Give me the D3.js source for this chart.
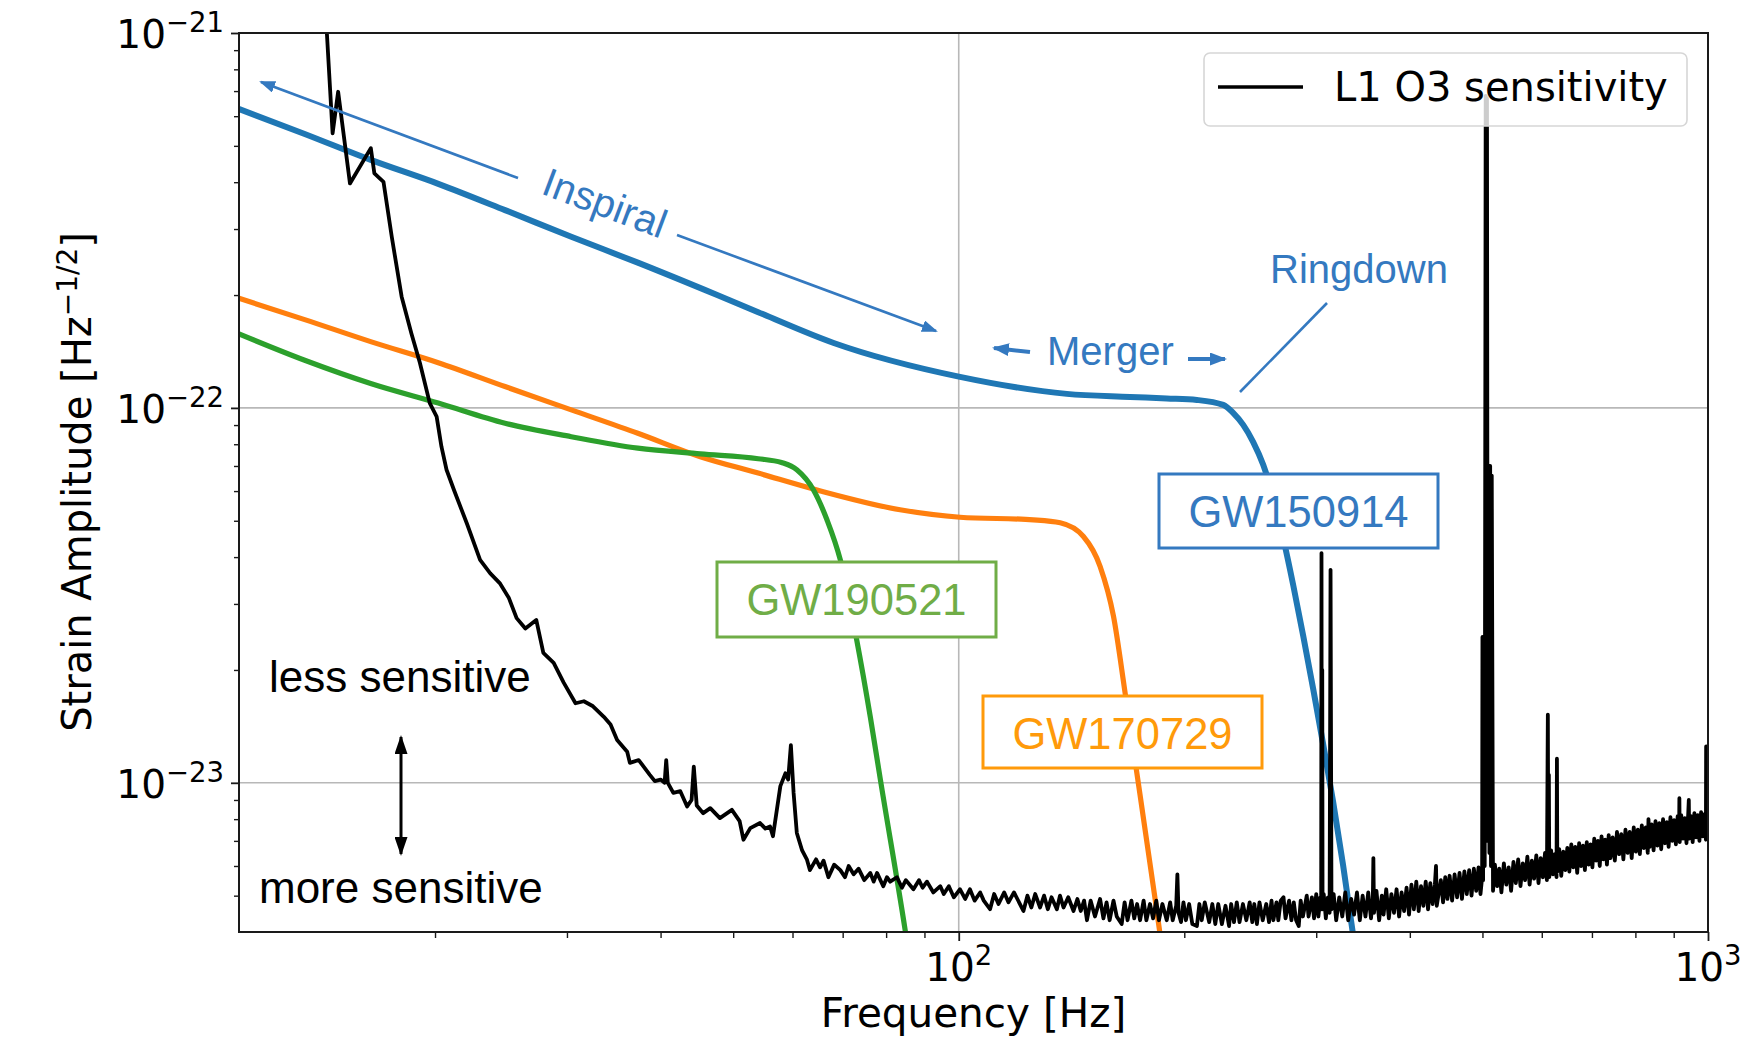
<!DOCTYPE html>
<html>
<head>
<meta charset="utf-8">
<script src="https://cdn.jsdelivr.net/npm/d3@7"></script>
<style>
  body { margin: 0; background: #fff; }
  svg { display: block; }
  .mpl { font-family: "DejaVu Sans", sans-serif; fill: #000; }
  .note { font-family: "Liberation Sans", Arial, sans-serif; }
</style>
</head>
<body>
<div class="chart-container"></div>
<script>
// Data. Strain values are given in units of 1e-24 (Hz^-1/2), frequency in Hz.
const STRAIN_UNIT = 1e-24;

const gw150914Points = [
  [10.95, 627], [13.4, 538], [16.45, 458], [20.2, 396], [24.8, 337], [30.4, 286],
  [37.3, 244], [47.6, 200], [54.0, 180], [68.1, 149], [100.4, 121], [139.4, 109],
  [169.3, 107], [189.5, 106], [207.9, 105], [225.4, 101.9], [232.4, 97.0], [239.7, 90.1],
  [247.1, 81.2], [254.9, 70.5], [262.8, 57.9], [271.0, 45.0], [279.5, 33.7],
  [288.2, 24.7], [297.2, 17.8], [306.4, 12.7], [316.0, 8.9], [325.9, 6.01],
  [336.0, 3.93], [346.6, 2.48]
];

const gw170729Points = [
  [10.95, 196], [13.4, 172], [16.45, 150], [20.2, 132], [24.8, 114], [30.4, 98.8],
  [37.3, 85.6], [45.2, 74.1], [54.0, 67.0], [64.7, 60.4], [83.5, 53.5], [100.4, 51.1],
  [125.8, 50.3], [136.6, 49.4], [146.7, 45.4], [154.4, 37.8], [160.9, 27.8],
  [166.8, 17.3], [172.9, 10.6], [182.9, 4.88], [188, 3.3]
];

const gw190521Points = [
  [10.95, 157.5], [13.4, 134], [16.45, 116], [20.2, 103], [24.8, 91.0], [30.4, 83.8],
  [37.3, 78.1], [45.2, 75.4], [54.0, 73.2], [58.0, 71.5], [60.8, 68.4], [64.0, 60.4],
  [66.7, 50.3], [69.5, 39.3], [73.1, 24.0], [76.2, 15.0], [78.6, 10.2], [84.8, 4.06],
  [87, 2.9]
];

// L1 O3 amplitude spectral density.
const noisePoints = [
  [13.9, 3000], [14.6, 540], [14.85, 697], [15.4, 397], [16.42, 493], [16.6, 422],
  [17.07, 401], [17.51, 286], [18.05, 198], [18.6, 158], [19.09, 132], [19.68, 103],
  [20.1, 94.8], [20.4, 78.8], [20.72, 68.4], [21.2, 60.4], [22.07, 49.0], [22.97, 39.3],
  [23.7, 36.2], [24.4, 34.1], [25.1, 31.1], [25.7, 27.5], [26.4, 25.8], [27.3, 27.2],
  [27.9, 22.2], [28.8, 20.9], [29.7, 18.5], [30.8, 16.3], [31.6, 16.5], [32.5, 16.0],
  [33.6, 15.0], [34.3, 14.3], [35.0, 13.0], [36.1, 12.1], [36.4, 11.3], [37.4, 11.5],
  [38.7, 10.5], [39.3, 10.1], [40.0, 10.2], [40.5, 10.0], [40.7, 11.5], [40.9, 10.0],
  [41.6, 9.4], [42.5, 9.5], [43.4, 8.65], [44.0, 9.0], [44.3, 11.05], [44.7, 8.7],
  [45.6, 8.3], [46.6, 8.56], [48.0, 8.05], [49.8, 8.47], [51.0, 7.9], [51.6, 7.05],
  [52.7, 7.57], [54.3, 7.81], [55.2, 7.55], [56.0, 7.65], [56.5, 7.2], [57.8, 9.8],
  [58.7, 10.6], [59.2, 10.2], [59.7, 12.6], [60.2, 9.4], [60.8, 7.35], [61.8, 6.6],
  [62.7, 6.25], [63.3, 5.85], [64.5, 6.25], [65.3, 5.95], [66.0, 6.2], [67.0, 5.6],
  [68.2, 6.05], [69.5, 5.85], [70.5, 5.6], [71.3, 6.0], [72.4, 5.7], [73.5, 5.9],
  [74.8, 5.5], [76.2, 5.75], [77.0, 5.45], [77.8, 5.75], [79.3, 5.3], [80.2, 5.6],
  [81.0, 5.45], [82.7, 5.6], [84.0, 5.25], [85.0, 5.5], [87.0, 5.2], [88.5, 5.5],
  [89.5, 5.25], [90.7, 5.45], [92.5, 5.1], [94.5, 5.3], [95.5, 5.05], [97.0, 5.3],
  [98.5, 4.95], [100.4, 5.2], [102, 4.9], [103.5, 5.2], [105, 4.85], [106.8, 5.1],
  [108, 4.85], [110.1, 4.6], [111.5, 5.05], [113, 4.75], [115, 5.1], [116.5, 4.8],
  [118.5, 5.1], [120.7, 4.75], [122, 4.55], [123.5, 5.0], [125, 4.65], [126.5, 5.05],
  [128.4, 4.65], [130, 5.0], [131.5, 4.6], [133, 4.95], [135.2, 4.6], [136.5, 5.0],
  [138, 4.65], [140, 4.95], [142.3, 4.55], [144, 4.9], [145.5, 4.55], [147, 4.85],
  [148.3, 4.3], [150, 4.85], [152, 4.4], [154.4, 4.9], [156, 4.35], [157.5, 4.8],
  [159, 4.3], [160.9, 4.85], [162.5, 4.4], [165, 4.2], [166.5, 4.8], [168, 4.3],
  [170, 4.85], [171.5, 4.35], [173, 4.75], [174.6, 4.3], [176.5, 4.85], [178, 4.3],
  [180, 4.75], [181.7, 4.35], [183.5, 4.85], [185, 4.3], [187, 4.75], [189.5, 4.3],
  [191.5, 4.8], [193, 4.3], [195.1, 4.7], [195.8, 5.7], [196.5, 4.5], [198, 4.25],
  [199.5, 4.8], [201, 4.3], [203, 4.75], [205, 4.2], [207.9, 4.15], [209.5, 4.75],
  [211, 4.3], [213, 4.8], [215.9, 4.25], [218, 4.75], [220, 4.2], [222, 4.75],
  [224.5, 4.2], [227, 4.7], [229.5, 4.15], [231, 4.75], [233, 4.25], [235, 4.8],
  [237, 4.25], [239.5, 4.75], [242, 4.3], [244.5, 4.8], [246.5, 4.25], [248, 4.75],
  [250, 4.2], [252, 4.8], [254.5, 4.3], [257.3, 4.75], [259.5, 4.25], [261.5, 4.85],
  [263, 4.3], [265.5, 4.8], [267, 4.3], [269, 4.85], [271.3, 4.95], [273, 4.35],
  [276, 4.85], [278, 4.3], [280, 4.8], [282, 4.3], [284.3, 4.15], [286, 4.85],
  [288, 4.4], [291.4, 5.0], [293, 4.4], [296, 4.95], [298, 4.35], [300, 5.05],
  [302, 4.4], [303.8, 4.95], [304.6, 4.6], [304.9, 41], [305.2, 4.7], [305.6, 20],
  [305.9, 4.6], [307, 5.05], [309, 4.35], [311, 4.95], [312.6, 4.5], [313.5, 37],
  [314.4, 4.6], [316.5, 5.05], [319, 4.3], [322, 4.95], [325, 4.4], [328, 5.1],
  [331, 4.3], [334, 4.9], [337, 4.45], [340, 5.1], [343, 4.3], [346, 5.0],
  [349, 4.4], [352, 5.1], [355, 4.35], [357, 4.9], [357.6, 6.3], [358.3, 4.5],
  [361, 5.15], [364, 4.3], [367, 5.0], [369, 4.45], [372, 5.2], [375, 4.35],
  [378, 5.05], [381, 4.5], [384, 5.2], [387, 4.4], [390, 5.1], [393, 4.55],
  [396, 5.25], [399, 4.45], [402, 5.35], [405, 4.6], [408, 5.45], [411, 4.55],
  [414, 5.3], [417, 4.7], [420, 5.45], [423, 4.6], [426, 5.4], [429, 4.75],
  [432, 5.35], [433.5, 6.0], [434.5, 4.7], [437, 5.05], [440, 5.5], [443, 4.8],
  [446, 5.6], [449, 4.9], [452, 5.65], [455.5, 4.85], [459, 5.7], [462.5, 4.95],
  [466, 5.75], [469.5, 4.9], [473, 5.8], [476.5, 5.05], [480, 5.85], [483.5, 5.0],
  [487, 5.9], [490.5, 5.15], [494, 5.95], [497, 5.05], [499.5, 5.6],
  [500, 24.5], [501, 5.5], [502.3, 24.5], [503.5, 6.0], [505, 680], [506, 8],
  [507, 670], [508.2, 7], [509.5, 70], [510.8, 6.5], [512, 70], [513.3, 6],
  [514.5, 66], [516.5, 5.15],
  [519.5, 6.05], [523, 5.3], [526.5, 5.9], [530, 5.1], [534, 6.1], [538, 5.35],
  [542, 5.95], [546, 5.15], [550, 6.15], [554, 5.4], [558, 6.25], [562, 5.3],
  [566, 6.1], [570, 5.5], [574, 6.35], [578, 5.35], [582, 6.2], [586, 5.55],
  [590, 6.4], [594, 5.4], [598, 6.3], [602, 5.6], [606, 6.5], [609.5, 5.5],
  [611.3, 15.2], [612.2, 5.8], [613.2, 10.5], [614, 5.6], [617.5, 6.6], [621, 5.7],
  [624.5, 6.45], [627.8, 5.6], [628.6, 11.6], [629.4, 5.8], [633, 6.65], [637, 5.65],
  [641, 6.55], [645, 5.85], [649, 6.7], [653, 5.8], [657, 6.85], [661, 5.95],
  [665, 6.75], [669, 5.75], [673, 6.9], [677, 6.0], [681, 6.8], [685, 5.85],
  [689, 6.95], [693, 6.05], [697, 6.85], [701, 5.95], [705, 7.1], [709, 6.2],
  [713, 7.0], [717, 6.0], [721, 7.2], [725, 6.25], [729, 7.05], [733, 6.05],
  [737, 7.25], [741, 6.3], [746, 7.15], [751, 6.2], [756, 7.4], [761, 6.45],
  [766, 7.3], [771, 6.25], [776, 7.5], [781, 6.5], [786, 7.4], [791, 6.3],
  [796, 7.6], [801, 6.55], [806, 7.5], [811, 6.45], [816, 7.7], [821, 6.7],
  [826, 7.6], [831, 6.5], [832.8, 8.0], [836, 6.75], [841, 7.75], [846, 6.6],
  [851, 7.9], [856, 6.8], [861, 7.8], [866, 6.65], [871, 8.0], [876, 6.9],
  [881, 7.85], [886, 6.75], [891, 8.1], [896, 7.0], [901, 7.95], [906, 6.85],
  [911, 8.15], [914.8, 7.05], [915.8, 9.1], [916.8, 6.95], [921, 8.2], [926, 7.1],
  [931, 8.05], [936, 6.9], [941, 8.25], [942.7, 9.0], [944, 7.1], [949, 8.15],
  [954, 6.95], [959, 8.3], [964, 7.15], [969, 8.2], [974, 7.0], [979, 8.35],
  [984, 7.2], [989, 8.25], [993.5, 7.05], [994.3, 12.5], [995.2, 7.3], [1000, 8.0]
];

// Ticks and tick labels.
const xMajorTicks = [100, 1000];
const xTickExponents = ["2", "3"];
const xMinorTicks = [20, 30, 40, 50, 60, 70, 80, 90, 200, 300, 400, 500, 600, 700, 800, 900];
const yMajorTicks = [1e-23, 1e-22, 1e-21];
const yTickExponents = ["\u221223", "\u221222", "\u221221"];
const yMinorTicks = [
  5e-24, 6e-24, 7e-24, 8e-24, 9e-24,
  2e-23, 3e-23, 4e-23, 5e-23, 6e-23, 7e-23, 8e-23, 9e-23,
  2e-22, 3e-22, 4e-22, 5e-22, 6e-22, 7e-22, 8e-22, 9e-22
];

// Event names and legend.
const eventNames = ["GW150914", "GW170729", "GW190521"];
const legendLabel = "L1 O3 sensitivity";

// Colours.
const lineColors = ["#1f77b4", "#ff7f0e", "#2ca02c"];
const noteColors = ["#3479c0", "#ff9a0a", "#70ad47"];

// Main function.
function ready() {
  const W = 1757;
  const H = 1040;
  const margin = { top: 33, right: 49, bottom: 108, left: 239 };
  const width = W - margin.left - margin.right;
  const height = H - margin.top - margin.bottom;

  // Scales.
  const xScale = d3.scaleLog().domain([10.95, 1000]).range([0, width]);
  const yScale = d3.scaleLog().domain([4e-24, 1e-21]).range([height, 0]);

  // Draw base.
  const root = d3
    .select(".chart-container")
    .append("svg")
    .attr("width", W)
    .attr("height", H)
    .style("background", "#fff");

  const defs = root.append("defs");
  defs
    .append("clipPath")
    .attr("id", "plot-clip")
    .append("rect")
    .attr("width", width)
    .attr("height", height);

  function addMarker(id, len, wid, color) {
    defs
      .append("marker")
      .attr("id", id)
      .attr("markerUnits", "userSpaceOnUse")
      .attr("markerWidth", len)
      .attr("markerHeight", wid)
      .attr("refX", len - 2)
      .attr("refY", wid / 2)
      .attr("orient", "auto-start-reverse")
      .append("path")
      .attr("d", `M0,0 L${len},${wid / 2} L0,${wid} Z`)
      .style("fill", color);
  }
  addMarker("arrow-thin", 16, 12, noteColors[0]);
  addMarker("arrow-bold", 17, 13, noteColors[0]);
  addMarker("arrow-black", 19, 13, "#000");

  const svg = root
    .append("g")
    .attr("transform", `translate(${margin.left}, ${margin.top})`);

  // Grid.
  const grid = svg.append("g").attr("class", "grid");
  grid
    .selectAll(".vgrid")
    .data(xMajorTicks)
    .join("line")
    .attr("x1", (d) => xScale(d))
    .attr("x2", (d) => xScale(d))
    .attr("y1", 0)
    .attr("y2", height)
    .style("stroke", "#b8b8b8")
    .style("stroke-width", 1.6);
  grid
    .selectAll(".hgrid")
    .data(yMajorTicks)
    .join("line")
    .attr("x1", 0)
    .attr("x2", width)
    .attr("y1", (d) => yScale(d))
    .attr("y2", (d) => yScale(d))
    .style("stroke", "#b8b8b8")
    .style("stroke-width", 1.6);

  // Draw lines.
  const line = d3
    .line()
    .x((d) => xScale(d[0]))
    .y((d) => yScale(d[1] * STRAIN_UNIT));

  const plot = svg.append("g").attr("clip-path", "url(#plot-clip)");

  const events = [gw150914Points, gw170729Points, gw190521Points];
  const eventWidths = [6, 5.2, 5.2];
  events.forEach((pts, i) => {
    plot
      .append("path")
      .datum(pts)
      .attr("d", line.curve(d3.curveMonotoneX))
      .style("fill", "none")
      .style("stroke", lineColors[i])
      .style("stroke-width", eventWidths[i])
      .style("stroke-linecap", "round");
  });

  plot
    .append("path")
    .datum(noisePoints)
    .attr("d", line.curve(d3.curveLinear))
    .style("fill", "none")
    .style("stroke", "#000")
    .style("stroke-width", 3.8)
    .style("stroke-linejoin", "round");

  // Draw axes.
  function styleAxis(g, w) {
    g.select(".domain").remove();
    g.selectAll(".tick line").style("stroke", "#1a1a1a").style("stroke-width", w);
  }

  svg
    .append("g")
    .attr("transform", `translate(0, ${height})`)
    .call(d3.axisBottom(xScale).tickValues(xMinorTicks).tickSize(6).tickFormat(""))
    .call((g) => styleAxis(g, 1.4));
  svg
    .append("g")
    .attr("transform", `translate(0, ${height})`)
    .call(d3.axisBottom(xScale).tickValues(xMajorTicks).tickSize(9).tickFormat(""))
    .call((g) => styleAxis(g, 1.8));
  svg
    .append("g")
    .call(d3.axisLeft(yScale).tickValues(yMinorTicks).tickSize(5).tickFormat(""))
    .call((g) => styleAxis(g, 1.4));
  svg
    .append("g")
    .call(d3.axisLeft(yScale).tickValues(yMajorTicks).tickSize(8).tickFormat(""))
    .call((g) => styleAxis(g, 1.8));

  // Frame.
  svg
    .append("rect")
    .attr("width", width)
    .attr("height", height)
    .style("fill", "none")
    .style("stroke", "#1a1a1a")
    .style("stroke-width", 2);

  // Tick labels (10 with a superscript power).
  function powerLabel(sel, exp) {
    sel.append("tspan").text("10");
    sel
      .append("tspan")
      .attr("dy", -16)
      .style("font-size", "27.5px")
      .text(exp);
  }

  svg
    .append("g")
    .selectAll("text")
    .data(xMajorTicks)
    .join("text")
    .attr("class", "mpl")
    .attr("x", (d) => xScale(d))
    .attr("y", height + 49)
    .attr("text-anchor", "middle")
    .style("font-size", "39px")
    .each(function (d, i) {
      powerLabel(d3.select(this), xTickExponents[i]);
    });

  svg
    .append("g")
    .selectAll("text")
    .data(yMajorTicks)
    .join("text")
    .attr("class", "mpl")
    .attr("x", -15)
    .attr("y", (d) => yScale(d) + 15)
    .attr("text-anchor", "end")
    .style("font-size", "39px")
    .each(function (d, i) {
      powerLabel(d3.select(this), yTickExponents[i]);
    });

  // Axis titles.
  root
    .append("text")
    .attr("class", "mpl")
    .attr("x", margin.left + width / 2)
    .attr("y", 1027)
    .attr("text-anchor", "middle")
    .style("font-size", "40.5px")
    .text("Frequency [Hz]");

  const yTitle = root
    .append("text")
    .attr("class", "mpl")
    .attr("transform", "translate(91, 482) rotate(-90)")
    .attr("text-anchor", "middle")
    .style("font-size", "40px");
  yTitle.append("tspan").text("Strain Amplitude [Hz");
  yTitle.append("tspan").attr("dy", -14).style("font-size", "28px").text("\u22121/2");
  yTitle.append("tspan").attr("dy", 14).text("]");

  // Legend.
  const legend = root.append("g").attr("class", "legend");
  legend
    .append("rect")
    .attr("x", 1204)
    .attr("y", 53)
    .attr("width", 483)
    .attr("height", 73)
    .attr("rx", 6)
    .style("fill", "#fff")
    .style("fill-opacity", 0.8)
    .style("stroke", "#d6d6d6")
    .style("stroke-width", 1.6);
  legend
    .append("line")
    .attr("x1", 1218)
    .attr("x2", 1303)
    .attr("y1", 87)
    .attr("y2", 87)
    .style("stroke", "#000")
    .style("stroke-width", 3.6);
  legend
    .append("text")
    .attr("class", "mpl")
    .attr("x", 1334)
    .attr("y", 101)
    .style("font-size", "40px")
    .text(legendLabel);

  // Draw annotations.
  const annots = root.append("g").attr("class", "note");
  const blue = noteColors[0];

  // Inspiral arrow and text.
  annots
    .append("line")
    .attr("x1", 518).attr("y1", 178).attr("x2", 261).attr("y2", 82)
    .style("stroke", blue).style("stroke-width", 2.6)
    .attr("marker-end", "url(#arrow-thin)");
  annots
    .append("line")
    .attr("x1", 677).attr("y1", 235).attr("x2", 936).attr("y2", 331)
    .style("stroke", blue).style("stroke-width", 2.6)
    .attr("marker-end", "url(#arrow-thin)");
  annots
    .append("text")
    .attr("transform", "translate(600, 216) rotate(20.6)")
    .attr("text-anchor", "middle")
    .style("font-size", "40px")
    .style("fill", blue)
    .text("Inspiral");

  // Merger.
  annots
    .append("line")
    .attr("x1", 1030).attr("y1", 352).attr("x2", 994).attr("y2", 348)
    .style("stroke", blue).style("stroke-width", 4)
    .attr("marker-end", "url(#arrow-bold)");
  annots
    .append("line")
    .attr("x1", 1188).attr("y1", 359).attr("x2", 1225).attr("y2", 359)
    .style("stroke", blue).style("stroke-width", 4)
    .attr("marker-end", "url(#arrow-bold)");
  annots
    .append("text")
    .attr("x", 1047)
    .attr("y", 365)
    .style("font-size", "40px")
    .style("fill", blue)
    .text("Merger");

  // Ringdown.
  annots
    .append("line")
    .attr("x1", 1327).attr("y1", 303).attr("x2", 1240).attr("y2", 392)
    .style("stroke", blue).style("stroke-width", 2.6);
  annots
    .append("text")
    .attr("x", 1270)
    .attr("y", 283)
    .style("font-size", "40px")
    .style("fill", blue)
    .text("Ringdown");

  // Event boxes.
  const boxes = [
    { x: 1159, y: 474, w: 279, h: 74 },
    { x: 983, y: 696, w: 279, h: 72 },
    { x: 717, y: 562, w: 279, h: 75 },
  ];
  boxes.forEach((b, i) => {
    annots
      .append("rect")
      .attr("x", b.x)
      .attr("y", b.y)
      .attr("width", b.w)
      .attr("height", b.h)
      .style("fill", "#fff")
      .style("stroke", noteColors[i])
      .style("stroke-width", 3);
    annots
      .append("text")
      .attr("x", b.x + b.w / 2)
      .attr("y", b.y + 53)
      .attr("text-anchor", "middle")
      .style("font-size", "43.5px")
      .style("fill", noteColors[i])
      .text(eventNames[i]);
  });

  // Sensitivity hint.
  annots
    .append("text")
    .attr("x", 269)
    .attr("y", 692)
    .style("font-size", "44px")
    .style("fill", "#000")
    .text("less sensitive");
  annots
    .append("text")
    .attr("x", 259)
    .attr("y", 903)
    .style("font-size", "44px")
    .style("fill", "#000")
    .text("more sensitive");
  annots
    .append("line")
    .attr("x1", 401).attr("y1", 737).attr("x2", 401).attr("y2", 854)
    .style("stroke", "#000").style("stroke-width", 3)
    .attr("marker-start", "url(#arrow-black)")
    .attr("marker-end", "url(#arrow-black)");
}

ready();
</script>
</body>
</html>
